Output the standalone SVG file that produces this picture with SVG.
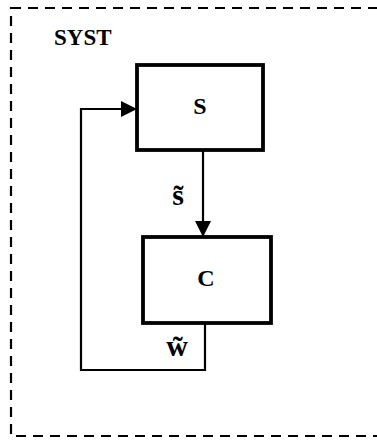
<svg xmlns="http://www.w3.org/2000/svg" width="377" height="440" viewBox="0 0 377 440">
<style>
.box{fill:#fff;stroke:#000;stroke-width:3.8}
.lbl{font-family:"Liberation Serif",serif;font-weight:bold;fill:#000;text-anchor:middle}
.conn{fill:none;stroke:#000;stroke-width:2.2}
</style>
<defs>
<marker id="arr" markerUnits="userSpaceOnUse" markerWidth="16" markerHeight="16" refX="15" refY="7.5" orient="auto" viewBox="0 0 15 15">
<path d="M0,0 L15,7.5 L0,15 Z" fill="#000"/>
</marker>
</defs>
<g id="syst">
<rect x="11" y="8" width="380" height="428" fill="none" stroke="#000" stroke-width="2.2" stroke-dasharray="10,7"/>
<text class="lbl" x="54" y="45" font-size="23" style="text-anchor:start">SYST</text>
</g>
<g id="connectors">
<path class="conn" d="M203,151 L203,237" marker-end="url(#arr)"/>
<path class="conn" d="M205,323 L205,370 L81,370 L81,109 L137,109" marker-end="url(#arr)"/>
<text class="lbl" x="178" y="205" font-size="30">s̃</text>
<text class="lbl" x="177" y="356" font-size="30">w̃</text>
</g>
<g id="node-S">
<rect class="box" x="137" y="65" width="126" height="85"/>
<text class="lbl" x="200" y="114" font-size="24">S</text>
</g>
<g id="node-C">
<rect class="box" x="143" y="237" width="128" height="86"/>
<text class="lbl" x="206" y="286" font-size="24">C</text>
</g>
</svg>
